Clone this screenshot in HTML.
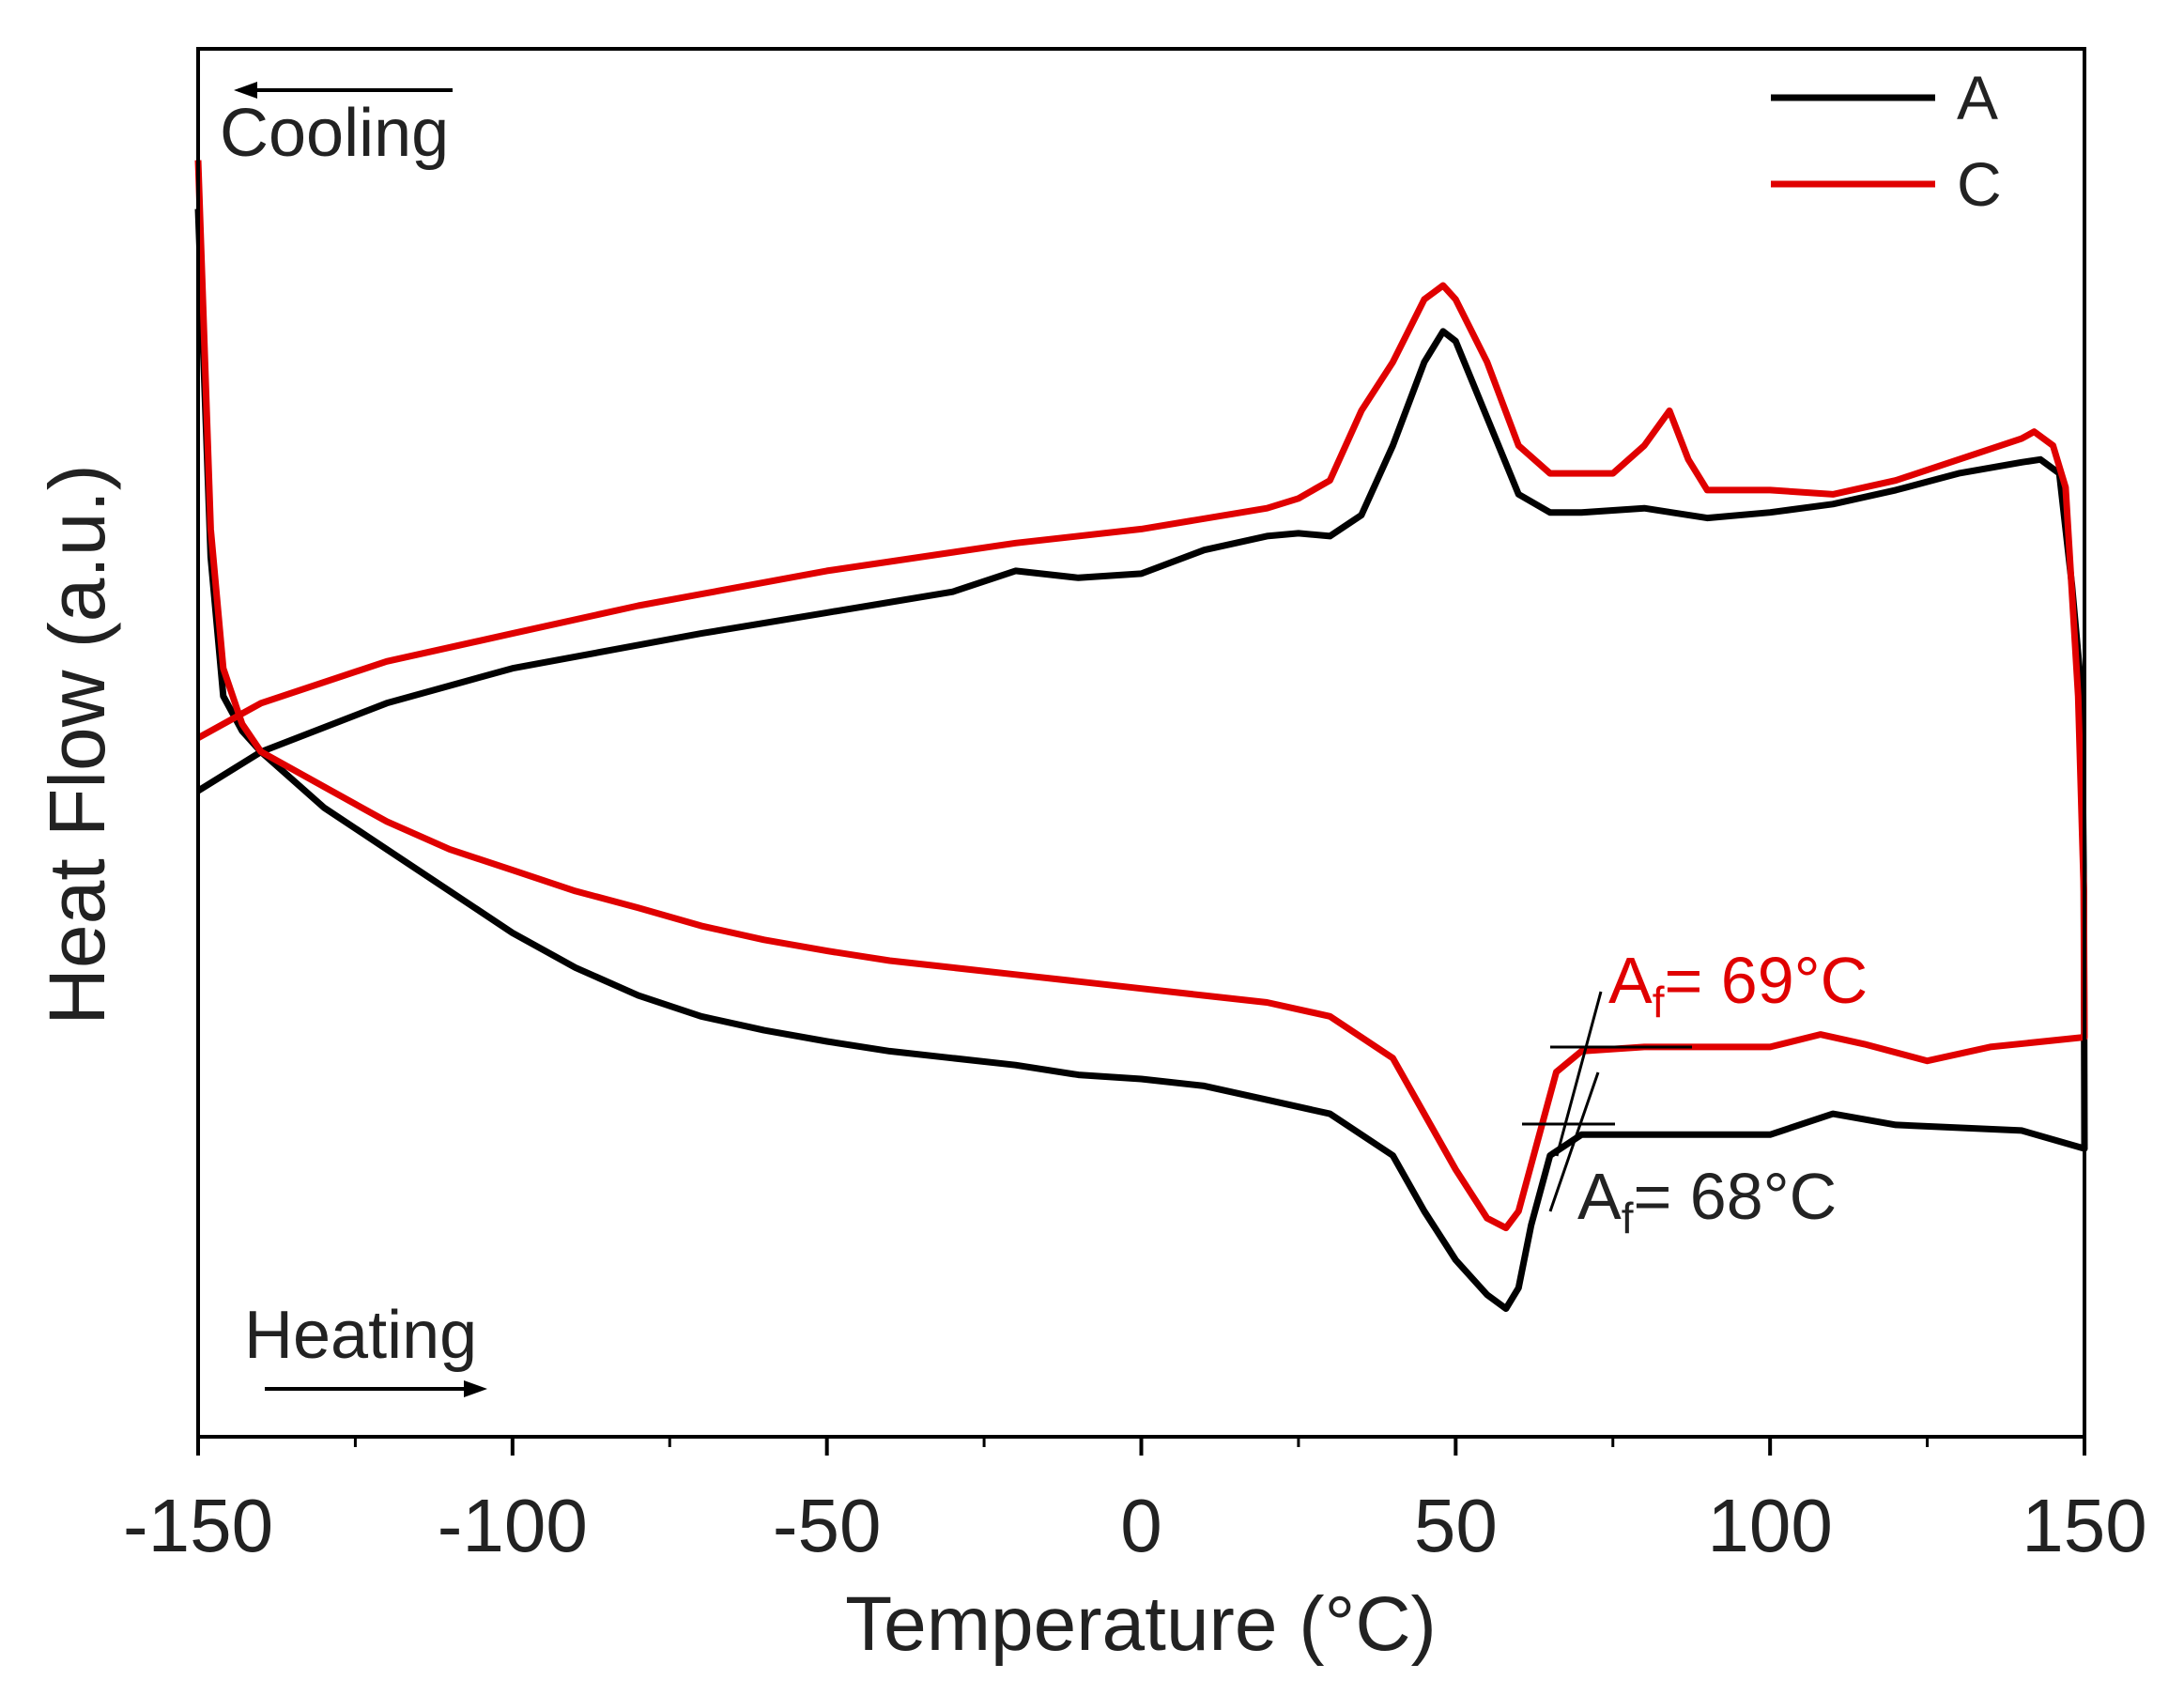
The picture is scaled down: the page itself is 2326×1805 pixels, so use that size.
<!DOCTYPE html>
<html><head><meta charset="utf-8"><style>
html,body{margin:0;padding:0;background:#fff;}
svg{display:block;font-family:"Liberation Sans",Arial,sans-serif;}
</style></head><body>
<svg id="chart" width="2326" height="1805" viewBox="0 0 2326 1805" xmlns="http://www.w3.org/2000/svg">
<rect x="0" y="0" width="2326" height="1805" fill="#fff"/>
<g id="marks"></g>
<rect x="211" y="52" width="2009" height="1478" fill="none" stroke="#000" stroke-width="4"/>
<g id="ticks"></g>
<text x="1215" y="1757" font-size="82" text-anchor="middle" fill="#222">Temperature (°C)</text>
<text transform="translate(111,793) rotate(-90)" font-size="84" text-anchor="middle" fill="#222">Heat Flow (a.u.)</text>
<g>
<line x1="1886" y1="104" x2="2061" y2="104" stroke="#000" stroke-width="7"/>
<text x="2084" y="127" font-size="66" fill="#222">A</text>
<line x1="1886" y1="196" x2="2061" y2="196" stroke="#e00000" stroke-width="7"/>
<text x="2084" y="219" font-size="66" fill="#222">C</text>
</g>
<g>
<line x1="254" y1="96" x2="482" y2="96" stroke="#000" stroke-width="4"/>
<polygon points="249,96 274,87 274,105" fill="#000"/>
<text x="234" y="166" font-size="72" fill="#222">Cooling</text>
</g>
<g>
<text x="260" y="1446" font-size="72" fill="#222">Heating</text>
<line x1="282" y1="1479" x2="511" y2="1479" stroke="#000" stroke-width="4"/>
<polygon points="519,1479 494,1470 494,1488" fill="#000"/>
</g>
<g>
<line x1="1651" y1="1115" x2="1802" y2="1115" stroke="#000" stroke-width="3"/>
<line x1="1658" y1="1231" x2="1705" y2="1056" stroke="#000" stroke-width="3"/>
<text x="1713" y="1068" font-size="70" fill="#e00000">A<tspan font-size="46" dy="15">f</tspan><tspan dy="-15">= 69°C</tspan></text>
</g>
<g>
<line x1="1621" y1="1197" x2="1720" y2="1197" stroke="#000" stroke-width="3"/>
<line x1="1651" y1="1290" x2="1702" y2="1142" stroke="#000" stroke-width="3"/>
<text x="1680" y="1298" font-size="70" fill="#222">A<tspan font-size="46" dy="15">f</tspan><tspan dy="-15">= 68°C</tspan></text>
</g>
</svg>
<script>
const xTicks = [-150,-100,-50,0,50,100,150];
const xMinorTicks = [-125,-75,-25,25,75,125];
const tempA = [-150,-148,-146,-143,-140,-130,-120,-110,-100,-90,-80,-70,-60,-50,-40,-30,-20,-10,0,10,20,30,40,45,50,55,58,60,62,65,70,80,100,110,120,140,150,149.9,149.6,148,146,143,140,130,120,110,100,90,80,70,65,60,55,50,48,45,40,35,30,25,20,10,0,-10,-20,-30,-50,-70,-100,-120,-140,-150];
const flowA = [88.2,63.2,53.2,50.7,49.2,45.2,42.2,39.2,36.2,33.7,31.7,30.2,29.2,28.4,27.7,27.2,26.7,26,25.7,25.2,24.2,23.2,20.2,16.2,12.7,10.2,9.2,10.7,15.2,20.2,21.7,21.7,21.7,23.2,22.4,22,20.7,39.2,53.2,61.2,69.2,70.2,70,69.2,68,67,66.4,66,66.7,66.4,66.4,67.7,73.2,78.7,79.4,77.2,71.2,66.2,64.7,64.9,64.7,63.7,62,61.7,62.2,60.7,59.2,57.7,55.2,52.7,49.2,46.4];
const tempC = [-150,-148,-146,-143,-140,-130,-120,-110,-100,-90,-80,-70,-60,-50,-40,-30,-20,-10,0,10,20,30,40,45,50,55,58,60,63,66,70,80,100,108,115,125,135,150,149.9,149,147,145,142,140,130,120,110,100,90,87,84,80,75,65,60,55,50,48,45,40,35,30,25,20,0,-20,-50,-80,-100,-120,-140,-150];
const flowC = [91.7,65.2,55.2,51.2,49.2,46.7,44.2,42.2,40.7,39.2,38,36.7,35.7,34.9,34.2,33.7,33.2,32.7,32.2,31.7,31.2,30.2,27.2,23.2,19.2,15.7,15,16.2,21.2,26.2,27.7,28,28,28.9,28.2,27,28,28.7,39.2,53.2,68.2,71.2,72.2,71.7,70.2,68.7,67.7,68,68,70.2,73.7,71.2,69.2,69.2,71.2,77.2,81.7,82.7,81.7,77.2,73.7,68.7,67.4,66.7,65.2,64.2,62.2,59.7,57.7,55.7,52.7,50.2];

const X0=211,X1=2220,Y0=52,Y1=1530,YMAX=99.7;
function sx(t){return X0+(t+150)/300*(X1-X0);}
function sy(v){return Y1-v/YMAX*(Y1-Y0);}
const NS="http://www.w3.org/2000/svg";
const marks=document.getElementById('marks');
function addSeries(xs,vs,color,name){
  const p=document.createElementNS(NS,'polyline');
  p.setAttribute('points',xs.map((t,i)=>sx(t).toFixed(1)+','+sy(vs[i]).toFixed(1)).join(' '));
  p.setAttribute('fill','none');p.setAttribute('stroke',color);
  p.setAttribute('stroke-width','7');p.setAttribute('stroke-linejoin','round');
  
  
  marks.appendChild(p);
}
addSeries(tempA,flowA,'#000','series-a-line');
addSeries(tempC,flowC,'#e00000','series-c-line');
const tk=document.getElementById('ticks');
xTicks.forEach(t=>{
  const l=document.createElementNS(NS,'line');
  l.setAttribute('x1',sx(t));l.setAttribute('x2',sx(t));
  l.setAttribute('y1',Y1);l.setAttribute('y2',Y1+20);
  l.setAttribute('stroke','#000');l.setAttribute('stroke-width','4');
  
  
  tk.appendChild(l);
  const tx=document.createElementNS(NS,'text');
  tx.setAttribute('x',sx(t));tx.setAttribute('y',1652);
  tx.setAttribute('font-size','80');tx.setAttribute('text-anchor','middle');tx.setAttribute('fill','#222');
  tx.textContent=t;
  
  
  tk.appendChild(tx);
});
xMinorTicks.forEach(t=>{
  const l=document.createElementNS(NS,'line');
  l.setAttribute('x1',sx(t));l.setAttribute('x2',sx(t));
  l.setAttribute('y1',Y1);l.setAttribute('y2',Y1+11);
  l.setAttribute('stroke','#000');l.setAttribute('stroke-width','3');
  
  
  tk.appendChild(l);
});
</script>
</body></html>
